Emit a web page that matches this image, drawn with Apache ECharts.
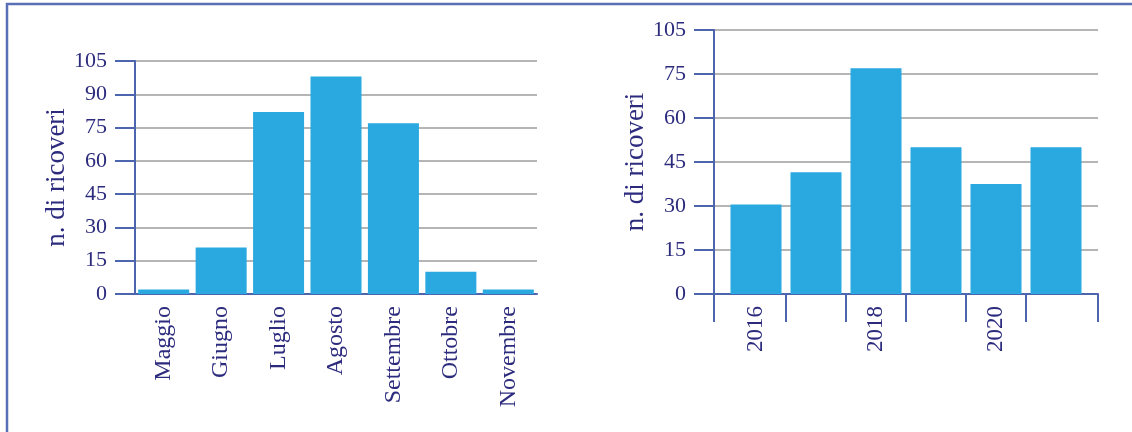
<!DOCTYPE html>
<html>
<head>
<meta charset="utf-8">
<script src="https://cdn.jsdelivr.net/npm/echarts@6/dist/echarts.min.js"></script>
<style>
html, body { margin: 0; padding: 0; background: #fff; }
#chart { width: 1132px; height: 432px; }
</style>
</head>
<body>
<div id="chart"></div>
<script>
// left chart: ricoveri per mese
const months = ['Maggio', 'Giugno', 'Luglio', 'Agosto', 'Settembre', 'Ottobre', 'Novembre']
const monthValues = [2, 21, 82, 98, 77, 10, 2]
const monthTicks = ['0', '15', '30', '45', '60', '75', '90', '105']

// right chart: ricoveri per anno (the original top label reads 105 on the 90 line)
const years = ['2016', '2017', '2018', '2019', '2020', '2021']
const yearValues = [30.5, 41.5, 77, 50, 37.5, 50]
const yearTicks = ['0', '15', '30', '45', '60', '75', '105']
const yearsShown = ['2016', '2018', '2020']

const step = 15
const axisBlue = '#4d64ae'
const textNavy = '#2c2b7d'
const gridGray = '#b5b5b5'
const barBlue = '#29a9e0'
const font = 'Liberation Serif'

const yAxisBase = (ticks) => ({
    type: 'value',
    min: 0,
    max: (ticks.length - 1) * step,
    interval: step,
    name: 'n. di ricoveri',
    nameLocation: 'middle',
    nameGap: 64,
    nameTextStyle: { color: textNavy, fontFamily: font, fontSize: 27 },
    axisLine: { show: true, onZero: false, lineStyle: { color: axisBlue, width: 2 } },
    axisTick: { show: true, length: 20, lineStyle: { color: axisBlue, width: 2 } },
    axisLabel: {
        margin: 28,
        color: textNavy, fontFamily: font, fontSize: 22,
        formatter: v => ticks[Math.round(v / step)]
    },
    splitLine: { show: true, lineStyle: { color: gridGray, width: 2 } }
})

// tick positions between the year bars, plus both axis ends
const pad = 0.7
const yearBounds = years.slice(1).map((_, i) => i + 0.5)
const yearTickPos = [-pad].concat(yearBounds, [years.length - 1 + pad])

var myChart = echarts.init(document.getElementById('chart'))
var option = {
    animation: false,
    graphic: [{
        type: 'polyline',
        shape: { points: [[7, 432], [7, 4], [1132, 4]] },
        style: { stroke: '#5a70b4', lineWidth: 2.5, fill: null }
    }],
    grid: [
        { left: 135, right: 595, top: 61, bottom: 138 },
        { left: 714, right: 34, top: 30, bottom: 138 }
    ],
    xAxis: [{
        gridIndex: 0,
        type: 'category',
        data: months,
        axisLine: { lineStyle: { color: axisBlue, width: 2 } },
        axisTick: { length: 28, lineStyle: { color: axisBlue, width: 2 } },
        axisLabel: {
            rotate: 90, margin: 12, interval: 0,
            color: textNavy, fontFamily: font, fontSize: 24
        }
    }, {
        gridIndex: 1,
        type: 'value',
        min: -pad,
        max: years.length - 1 + pad,
        splitLine: { show: false },
        axisLine: { show: true, onZero: false, lineStyle: { color: axisBlue, width: 2 } },
        axisTick: {
            show: true, length: 28, customValues: yearTickPos,
            lineStyle: { color: axisBlue, width: 2 }
        },
        axisLabel: {
            rotate: 90, margin: 12,
            customValues: yearsShown.map(y => years.indexOf(y)),
            formatter: v => years[Math.round(v)],
            color: textNavy, fontFamily: font, fontSize: 23
        }
    }],
    yAxis: [
        Object.assign(yAxisBase(monthTicks), { gridIndex: 0 }),
        Object.assign(yAxisBase(yearTicks), { gridIndex: 1 })
    ],
    series: [{
        type: 'bar',
        xAxisIndex: 0,
        yAxisIndex: 0,
        data: monthValues,
        barWidth: 51,
        itemStyle: { color: barBlue }
    }, {
        type: 'bar',
        xAxisIndex: 1,
        yAxisIndex: 1,
        data: years.map((y, i) => [i, yearValues[i]]),
        barWidth: 51,
        itemStyle: { color: barBlue }
    }]
}
myChart.setOption(option)
</script>
</body>
</html>
